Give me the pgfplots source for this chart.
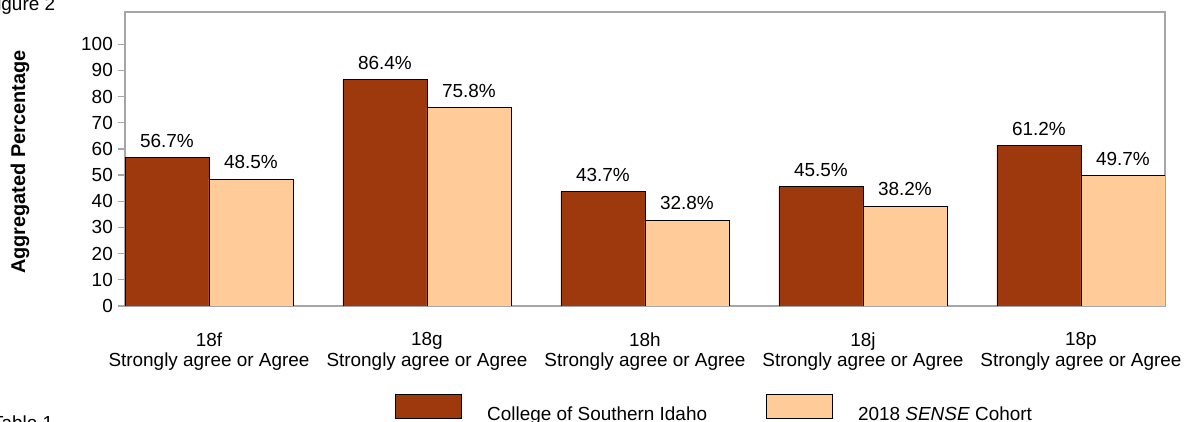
\documentclass[border=0pt]{standalone}
\usepackage{fontspec}
\setmainfont{Liberation Sans}
\usepackage{pgfplots}
\pgfplotsset{compat=1.18}
\definecolor{darkbar}{RGB}{158,57,13}
\definecolor{lightbar}{RGB}{255,203,153}
\definecolor{axgray}{RGB}{166,166,166}
\newcommand\chartfont{\fontsize{19}{20.5}\selectfont}
\begin{document}
\begin{tikzpicture}
\useasboundingbox (0bp,0bp) rectangle (1186bp,422bp);
\begin{axis}[
  at={(125bp,116bp)}, anchor=south west,
  width=1040bp, height=294bp, scale only axis,
  ybar=0pt, bar width=84bp,
  xmin=-0.3853, xmax=4.3853,
  ymin=0, ymax=112.3,
  xtick={0,1,2,3,4},
  xticklabels={{18f\\Strongly agree or Agree},{18g\\Strongly agree or Agree},{18h\\Strongly agree or Agree},{18j\\Strongly agree or Agree},{18p\\Strongly agree or Agree}},
  ytick={0,10,...,100},
  /pgf/number format/assume math mode=true,
  axis line style={axgray, line width=1.5bp},
  ytick pos=left,
  tick align=outside,
  major tick length=7bp,
  tick style={axgray, line width=1.2bp},
  xtick style={draw=none},
  yticklabel style={font=\chartfont, inner sep=0pt, xshift=-5bp},
  xticklabel style={font=\chartfont, align=center, anchor=north, inner sep=0pt, yshift=-19.5bp},
  ylabel={\textbf{Aggregated Percentage}},
  every axis y label/.style={at={(rel axis cs:0,0.5)}, anchor=center, xshift=-105bp, yshift=-3bp, rotate=90, font=\fontsize{20}{20}\selectfont},
  nodes near coords={\pgfmathprintnumber[fixed,fixed zerofill,precision=1]{\pgfplotspointmeta}\%},
  every node near coord/.append style={font=\chartfont, anchor=base, yshift=10.5bp, text=black, inner sep=0pt},
  legend columns=2,
  legend style={at={(rel axis cs:0.2596,-0.3469)}, anchor=west, draw=none, fill=none, inner sep=0pt, font=\chartfont,
    nodes={inner sep=0pt},
    /tikz/every odd column/.append style={column sep=25bp},
    /tikz/every even column/.append style={column sep=59bp}},
]
\addplot[fill=darkbar, draw=black, line width=0.8bp,
  legend image code/.code={\draw[fill=darkbar, draw=black, line width=1bp] (0bp,-5bp) rectangle (66bp,19bp);}]
  coordinates {(0,56.7) (1,86.4) (2,43.7) (3,45.5) (4,61.2)};
\addlegendentry{College of Southern Idaho}
\addplot[fill=lightbar, draw=black, line width=0.8bp,
  legend image code/.code={\draw[fill=lightbar, draw=black, line width=1bp] (0bp,-5bp) rectangle (66bp,19bp);}]
  coordinates {(0,48.5) (1,75.8) (2,32.8) (3,38.2) (4,49.7)};
\addlegendentry{2018 \textit{SENSE} Cohort}
\end{axis}
\node[anchor=base west, inner sep=0pt, font=\chartfont] at (-14.5bp,411bp) {Figure 2};
\node[anchor=base west, inner sep=0pt, font=\chartfont] at (-8bp,-7.5bp) {Table 1};
\end{tikzpicture}
\end{document}
